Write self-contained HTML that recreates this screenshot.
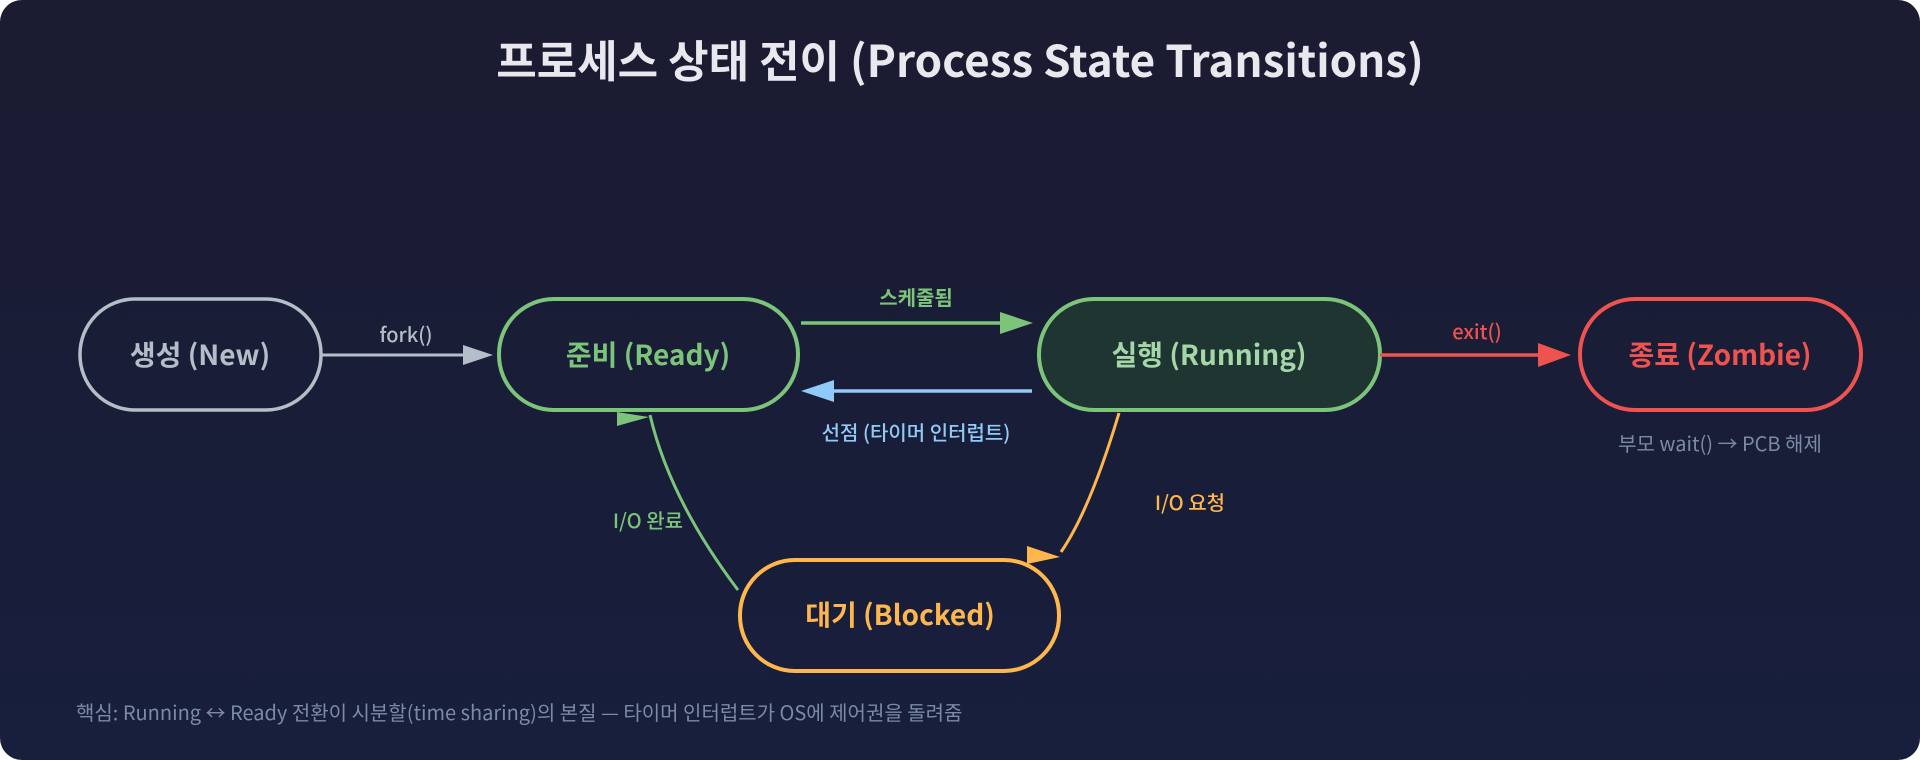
<!DOCTYPE html>
<html><head><meta charset="utf-8"><style>
html,body{margin:0;padding:0;background:#fff;}
body{width:1920px;height:760px;overflow:hidden;}
.bg{position:absolute;left:0;top:0;width:1920px;height:760px;border-radius:22px;background:linear-gradient(180deg,#1b1b31 0%,#171f3d 100%);}
svg{position:absolute;left:0;top:0;}
text{font-family:"Noto Sans CJK KR","Liberation Sans",sans-serif;}
</style></head><body>
<div class="bg"></div>
<svg width="1920" height="760" viewBox="0 0 1920 760">
<text x="960" y="77" text-anchor="middle" font-size="44" font-weight="700" fill="#e8e8ee">프로세스 상태 전이 (Process State Transitions)</text>

<rect x="80" y="299" width="241" height="111" rx="55" fill="none" stroke="#b4bec8" stroke-width="3.5"/>
<text x="200" y="365" text-anchor="middle" font-size="28" font-weight="700" fill="#b4bec8">생성 (New)</text>

<rect x="499" y="299" width="299" height="111" rx="55" fill="none" stroke="#7cc47a" stroke-width="4"/>
<text x="648" y="365" text-anchor="middle" font-size="28" font-weight="700" fill="#7cc47a">준비 (Ready)</text>

<rect x="1039" y="299" width="341" height="111" rx="55" fill="#1f3532" stroke="#7cc47a" stroke-width="4"/>
<text x="1209" y="365" text-anchor="middle" font-size="28" font-weight="700" fill="#a5d6a7">실행 (Running)</text>

<rect x="1580" y="299" width="281" height="111" rx="55" fill="none" stroke="#ef5350" stroke-width="4"/>
<text x="1720" y="365" text-anchor="middle" font-size="28" font-weight="700" fill="#ef5350">종료 (Zombie)</text>

<rect x="740" y="560" width="319" height="111" rx="55" fill="none" stroke="#ffb74d" stroke-width="4"/>
<text x="900" y="625" text-anchor="middle" font-size="28" font-weight="700" fill="#ffb74d">대기 (Blocked)</text>

<line x1="321" y1="355" x2="470" y2="355" stroke="#b4bec8" stroke-width="3"/>
<polygon points="463,345 493,355 463,365" fill="#b4bec8"/>
<text x="406" y="342" text-anchor="middle" font-size="20" font-weight="500" fill="#b4bec8">fork()</text>

<line x1="801" y1="323" x2="1010" y2="323" stroke="#7cc47a" stroke-width="3.5"/>
<polygon points="1000,312 1033,323 1000,334" fill="#7cc47a"/>
<text x="916" y="305" text-anchor="middle" font-size="20" font-weight="700" fill="#7cc47a">스케줄됨</text>

<line x1="1032" y1="391" x2="825" y2="391" stroke="#90caf9" stroke-width="3.5"/>
<polygon points="834,380 801,391 834,402" fill="#90caf9"/>
<text x="916" y="440" text-anchor="middle" font-size="20" font-weight="500" fill="#90caf9">선점 (타이머 인터럽트)</text>

<line x1="1380" y1="355" x2="1545" y2="355" stroke="#ef5350" stroke-width="3.5"/>
<polygon points="1538,343 1571,355 1538,367" fill="#ef5350"/>
<text x="1477" y="339" text-anchor="middle" font-size="20" font-weight="500" fill="#ef5350">exit()</text>
<text x="1720" y="451" text-anchor="middle" font-size="20" fill="#7a8ba3">부모 wait() → PCB 해제</text>

<path d="M1119,413 Q1090,510 1061,552" fill="none" stroke="#ffb74d" stroke-width="3"/>
<polygon points="1027,546 1060,557 1027,564" fill="#ffb74d"/>
<text x="1190" y="510" text-anchor="middle" font-size="20" font-weight="500" fill="#ffb74d">I/O 요청</text>

<path d="M738,590 Q670,500 650,415" fill="none" stroke="#7cc47a" stroke-width="3"/>
<polygon points="617,412 649,417 617,426" fill="#7cc47a"/>
<text x="648" y="528" text-anchor="middle" font-size="20" font-weight="500" fill="#7cc47a">I/O 완료</text>

<text x="76" y="720" font-size="20" fill="#7a8ba3">핵심: Running ↔ Ready 전환이 시분할(time sharing)의 본질 — 타이머 인터럽트가 OS에 제어권을 돌려줌</text>
</svg>
</body></html>
